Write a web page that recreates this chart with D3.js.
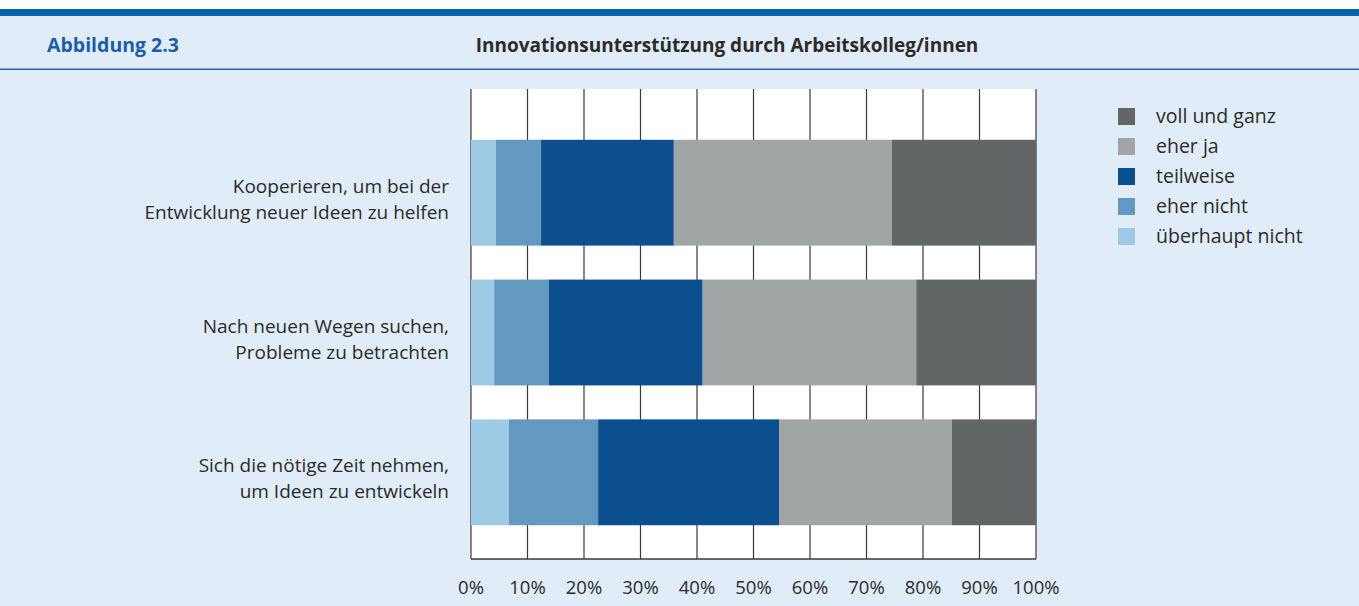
<!DOCTYPE html>
<html>
<head>
<meta charset="utf-8">
<script src="https://cdn.jsdelivr.net/npm/d3@7"></script>
<style>
  body { margin: 0; background: #ffffff; }
  text { font-family: "Open Sans", "Noto Sans", sans-serif; }
</style>
</head>
<body>
<svg id="chart"></svg>
<script>
"use strict";

// data (percent)
const categories = [
  ["Kooperieren, um bei der", "Entwicklung neuer Ideen zu helfen"],
  ["Nach neuen Wegen suchen,", "Probleme zu betrachten"],
  ["Sich die nötige Zeit nehmen,", "um Ideen zu entwickeln"]
];
const seriesNames = ["überhaupt nicht", "eher nicht", "teilweise", "eher ja", "voll und ganz"];
const ueberhauptNicht = [4.4, 4.1, 6.7];
const eherNicht = [8.0, 9.7, 15.8];
const teilweise = [23.5, 27.2, 32.1];
const eherJa = [38.6, 37.8, 30.5];
const vollUndGanz = [25.5, 21.2, 14.9];
const xTicks = [0, 10, 20, 30, 40, 50, 60, 70, 80, 90, 100];
const legendOrder = ["voll und ganz", "eher ja", "teilweise", "eher nicht", "überhaupt nicht"];

const colors = d3.scaleOrdinal()
  .domain(seriesNames)
  .range(["#9ccbe3", "#6399c0", "#0b4f8f", "#a2a5a6", "#626667"]);

const W = 1359, H = 606;
const plot = {left: 471, right: 1036, top: 89, bottom: 559};

const svg = d3.select("#chart").attr("width", W).attr("height", H);

// page background / header
svg.append("rect").attr("width", W).attr("height", H).attr("fill", "#ffffff");
svg.append("rect").attr("y", 9).attr("width", W).attr("height", H - 9).attr("fill", "#e0ecf8");
svg.append("rect").attr("y", 9).attr("width", W).attr("height", 7).attr("fill", "#0a63ae");
svg.append("rect").attr("y", 68.5).attr("width", W).attr("height", 1.5).attr("fill", "#2a66a3");

svg.append("text")
  .attr("x", 47).attr("y", 52)
  .attr("font-size", 19.5).attr("font-weight", "bold")
  .attr("fill", "#1a5ea8")
  .text("Abbildung 2.3");
svg.append("text")
  .attr("x", 727).attr("y", 52)
  .attr("text-anchor", "middle")
  .attr("font-size", 19).attr("font-weight", "bold")
  .attr("fill", "#2b2b2b")
  .text("Innovationsunterstützung durch Arbeitskolleg/innen");

// scales
const x = d3.scaleLinear().domain([0, 100]).range([plot.left, plot.right]);
const y = d3.scaleBand()
  .domain(d3.range(categories.length))
  .range([123, 542])
  .paddingInner(0.243)
  .paddingOuter(0.12);

// plot area
svg.append("rect")
  .attr("x", plot.left).attr("y", plot.top)
  .attr("width", plot.right - plot.left).attr("height", plot.bottom - plot.top)
  .attr("fill", "#ffffff");

svg.append("g")
  .selectAll("line")
  .data(xTicks)
  .join("line")
  .attr("x1", d => x(d)).attr("x2", d => x(d))
  .attr("y1", plot.top).attr("y2", plot.bottom)
  .attr("stroke", "#3a3a3a")
  .attr("stroke-width", 1.2);

svg.append("line")
  .attr("x1", plot.left).attr("x2", plot.right)
  .attr("y1", plot.bottom).attr("y2", plot.bottom)
  .attr("stroke", "#3a3a3a").attr("stroke-width", 1.5);

// stacked bars
const rows = categories.map((c, i) => ({
  "überhaupt nicht": ueberhauptNicht[i],
  "eher nicht": eherNicht[i],
  "teilweise": teilweise[i],
  "eher ja": eherJa[i],
  "voll und ganz": vollUndGanz[i]
}));
const stacked = d3.stack().keys(seriesNames)(rows);

svg.append("g")
  .selectAll("g")
  .data(stacked)
  .join("g")
  .attr("fill", d => colors(d.key))
  .selectAll("rect")
  .data(d => d)
  .join("rect")
  .attr("x", d => x(d[0]))
  .attr("width", d => x(d[1]) - x(d[0]))
  .attr("y", (d, i) => y(i))
  .attr("height", y.bandwidth());

// category labels
const catG = svg.append("g");
categories.forEach((lines, i) => {
  const cy = y(i) + y.bandwidth() / 2;
  catG.append("text")
    .attr("x", 449).attr("y", cy)
    .attr("text-anchor", "end")
    .attr("font-size", 19)
    .attr("fill", "#2b2b2b")
    .selectAll("tspan")
    .data(lines)
    .join("tspan")
    .attr("x", 449)
    .attr("dy", (d, j) => j === 0 ? 0 : 26)
    .text(d => d);
});

// x axis labels
svg.append("g")
  .selectAll("text")
  .data(xTicks)
  .join("text")
  .attr("x", d => x(d)).attr("y", 594)
  .attr("text-anchor", "middle")
  .attr("font-size", 18.5)
  .attr("fill", "#2b2b2b")
  .text(d => d + "%");

// legend
const legend = svg.append("g")
  .selectAll("g")
  .data(legendOrder)
  .join("g")
  .attr("transform", (d, i) => `translate(1118, ${108 + i * 30})`);
legend.append("rect")
  .attr("width", 17).attr("height", 17)
  .attr("fill", d => colors(d));
legend.append("text")
  .attr("x", 38).attr("y", 15)
  .attr("font-size", 19.5)
  .attr("fill", "#2b2b2b")
  .text(d => d);
</script>
</body>
</html>
